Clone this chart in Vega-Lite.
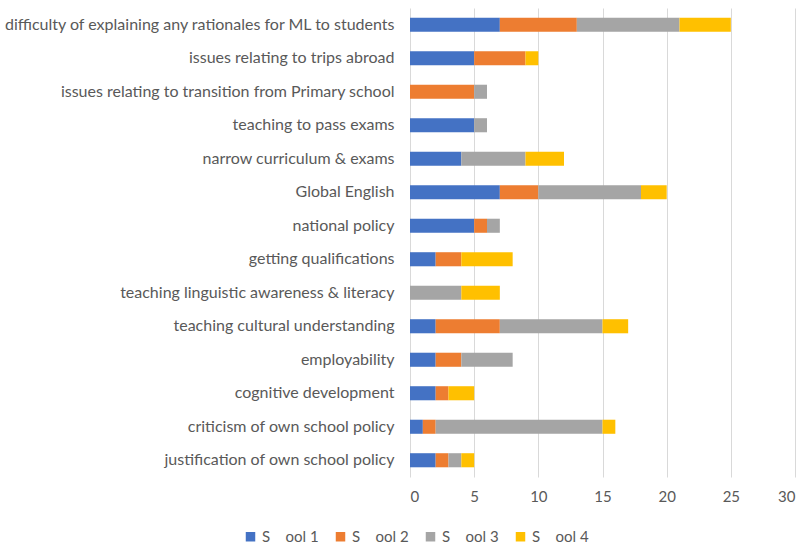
{
  "$schema": "https://vega.github.io/schema/vega-lite/v6.json",
  "width": 385,
  "height": 469,
  "autosize": {"type": "none"},
  "padding": {"left": 410, "top": 8, "right": 12, "bottom": 69},
  "background": "white",
  "config": {
    "view": {"stroke": null},
    "font": "Lato",
    "axis": {"labelFont": "Lato", "labelColor": "#595959", "labelFontSize": 15},
    "legend": {"labelFont": "Lato", "labelColor": "#595959", "labelFontSize": 15}
  },
  "data": {
    "values": [
      {"topic": "difficulty of explaining any rationales for ML to students", "school": "S\u00a0\u00a0\u00a0\u00a0ool 1", "ord": 1, "n": 7},
      {"topic": "difficulty of explaining any rationales for ML to students", "school": "S\u00a0\u00a0\u00a0\u00a0ool 2", "ord": 2, "n": 6},
      {"topic": "difficulty of explaining any rationales for ML to students", "school": "S\u00a0\u00a0\u00a0\u00a0ool 3", "ord": 3, "n": 8},
      {"topic": "difficulty of explaining any rationales for ML to students", "school": "S\u00a0\u00a0\u00a0\u00a0ool 4", "ord": 4, "n": 4},
      {"topic": "issues relating to trips abroad", "school": "S\u00a0\u00a0\u00a0\u00a0ool 1", "ord": 1, "n": 5},
      {"topic": "issues relating to trips abroad", "school": "S\u00a0\u00a0\u00a0\u00a0ool 2", "ord": 2, "n": 4},
      {"topic": "issues relating to trips abroad", "school": "S\u00a0\u00a0\u00a0\u00a0ool 4", "ord": 4, "n": 1},
      {"topic": "issues relating to transition from Primary school", "school": "S\u00a0\u00a0\u00a0\u00a0ool 2", "ord": 2, "n": 5},
      {"topic": "issues relating to transition from Primary school", "school": "S\u00a0\u00a0\u00a0\u00a0ool 3", "ord": 3, "n": 1},
      {"topic": "teaching to pass exams", "school": "S\u00a0\u00a0\u00a0\u00a0ool 1", "ord": 1, "n": 5},
      {"topic": "teaching to pass exams", "school": "S\u00a0\u00a0\u00a0\u00a0ool 3", "ord": 3, "n": 1},
      {"topic": "narrow curriculum & exams", "school": "S\u00a0\u00a0\u00a0\u00a0ool 1", "ord": 1, "n": 4},
      {"topic": "narrow curriculum & exams", "school": "S\u00a0\u00a0\u00a0\u00a0ool 3", "ord": 3, "n": 5},
      {"topic": "narrow curriculum & exams", "school": "S\u00a0\u00a0\u00a0\u00a0ool 4", "ord": 4, "n": 3},
      {"topic": "Global English", "school": "S\u00a0\u00a0\u00a0\u00a0ool 1", "ord": 1, "n": 7},
      {"topic": "Global English", "school": "S\u00a0\u00a0\u00a0\u00a0ool 2", "ord": 2, "n": 3},
      {"topic": "Global English", "school": "S\u00a0\u00a0\u00a0\u00a0ool 3", "ord": 3, "n": 8},
      {"topic": "Global English", "school": "S\u00a0\u00a0\u00a0\u00a0ool 4", "ord": 4, "n": 2},
      {"topic": "national policy", "school": "S\u00a0\u00a0\u00a0\u00a0ool 1", "ord": 1, "n": 5},
      {"topic": "national policy", "school": "S\u00a0\u00a0\u00a0\u00a0ool 2", "ord": 2, "n": 1},
      {"topic": "national policy", "school": "S\u00a0\u00a0\u00a0\u00a0ool 3", "ord": 3, "n": 1},
      {"topic": "getting qualifications", "school": "S\u00a0\u00a0\u00a0\u00a0ool 1", "ord": 1, "n": 2},
      {"topic": "getting qualifications", "school": "S\u00a0\u00a0\u00a0\u00a0ool 2", "ord": 2, "n": 2},
      {"topic": "getting qualifications", "school": "S\u00a0\u00a0\u00a0\u00a0ool 4", "ord": 4, "n": 4},
      {"topic": "teaching linguistic awareness & literacy", "school": "S\u00a0\u00a0\u00a0\u00a0ool 3", "ord": 3, "n": 4},
      {"topic": "teaching linguistic awareness & literacy", "school": "S\u00a0\u00a0\u00a0\u00a0ool 4", "ord": 4, "n": 3},
      {"topic": "teaching cultural understanding", "school": "S\u00a0\u00a0\u00a0\u00a0ool 1", "ord": 1, "n": 2},
      {"topic": "teaching cultural understanding", "school": "S\u00a0\u00a0\u00a0\u00a0ool 2", "ord": 2, "n": 5},
      {"topic": "teaching cultural understanding", "school": "S\u00a0\u00a0\u00a0\u00a0ool 3", "ord": 3, "n": 8},
      {"topic": "teaching cultural understanding", "school": "S\u00a0\u00a0\u00a0\u00a0ool 4", "ord": 4, "n": 2},
      {"topic": "employability", "school": "S\u00a0\u00a0\u00a0\u00a0ool 1", "ord": 1, "n": 2},
      {"topic": "employability", "school": "S\u00a0\u00a0\u00a0\u00a0ool 2", "ord": 2, "n": 2},
      {"topic": "employability", "school": "S\u00a0\u00a0\u00a0\u00a0ool 3", "ord": 3, "n": 4},
      {"topic": "cognitive development", "school": "S\u00a0\u00a0\u00a0\u00a0ool 1", "ord": 1, "n": 2},
      {"topic": "cognitive development", "school": "S\u00a0\u00a0\u00a0\u00a0ool 2", "ord": 2, "n": 1},
      {"topic": "cognitive development", "school": "S\u00a0\u00a0\u00a0\u00a0ool 4", "ord": 4, "n": 2},
      {"topic": "criticism of own school policy", "school": "S\u00a0\u00a0\u00a0\u00a0ool 1", "ord": 1, "n": 1},
      {"topic": "criticism of own school policy", "school": "S\u00a0\u00a0\u00a0\u00a0ool 2", "ord": 2, "n": 1},
      {"topic": "criticism of own school policy", "school": "S\u00a0\u00a0\u00a0\u00a0ool 3", "ord": 3, "n": 13},
      {"topic": "criticism of own school policy", "school": "S\u00a0\u00a0\u00a0\u00a0ool 4", "ord": 4, "n": 1},
      {"topic": "justification of own school policy", "school": "S\u00a0\u00a0\u00a0\u00a0ool 1", "ord": 1, "n": 2},
      {"topic": "justification of own school policy", "school": "S\u00a0\u00a0\u00a0\u00a0ool 2", "ord": 2, "n": 1},
      {"topic": "justification of own school policy", "school": "S\u00a0\u00a0\u00a0\u00a0ool 3", "ord": 3, "n": 1},
      {"topic": "justification of own school policy", "school": "S\u00a0\u00a0\u00a0\u00a0ool 4", "ord": 4, "n": 1}
    ]
  },
  "mark": {"type": "bar"},
  "encoding": {
    "y": {
      "field": "topic",
      "type": "nominal",
      "sort": [
        "difficulty of explaining any rationales for ML to students",
        "issues relating to trips abroad",
        "issues relating to transition from Primary school",
        "teaching to pass exams",
        "narrow curriculum & exams",
        "Global English",
        "national policy",
        "getting qualifications",
        "teaching linguistic awareness & literacy",
        "teaching cultural understanding",
        "employability",
        "cognitive development",
        "criticism of own school policy",
        "justification of own school policy"
      ],
      "scale": {"paddingInner": 0.58, "paddingOuter": 0.29},
      "axis": {"title": null, "ticks": false, "domain": false, "labelPadding": 16, "labelLimit": 420, "labelFontSize": 16}
    },
    "x": {
      "field": "n",
      "type": "quantitative",
      "stack": "zero",
      "scale": {"domain": [0, 30], "nice": false},
      "axis": {"title": null, "values": [0, 5, 10, 15, 20, 25, 30], "ticks": false, "domain": false, "grid": true, "gridColor": "#d9d9d9", "gridWidth": 1, "labelPadding": 12}
    },
    "color": {
      "field": "school",
      "type": "nominal",
      "scale": {"range": ["#4472C4", "#ED7D31", "#A5A5A5", "#FFC000"]},
      "legend": {
        "title": null,
        "orient": "none",
        "direction": "horizontal",
        "legendX": -167,
        "legendY": 521,
        "symbolType": "square",
        "symbolSize": 90,
        "symbolStrokeWidth": 0,
        "columnPadding": 14,
        "labelOffset": 4
      }
    },
    "order": {"field": "ord", "type": "quantitative"}
  }
}
